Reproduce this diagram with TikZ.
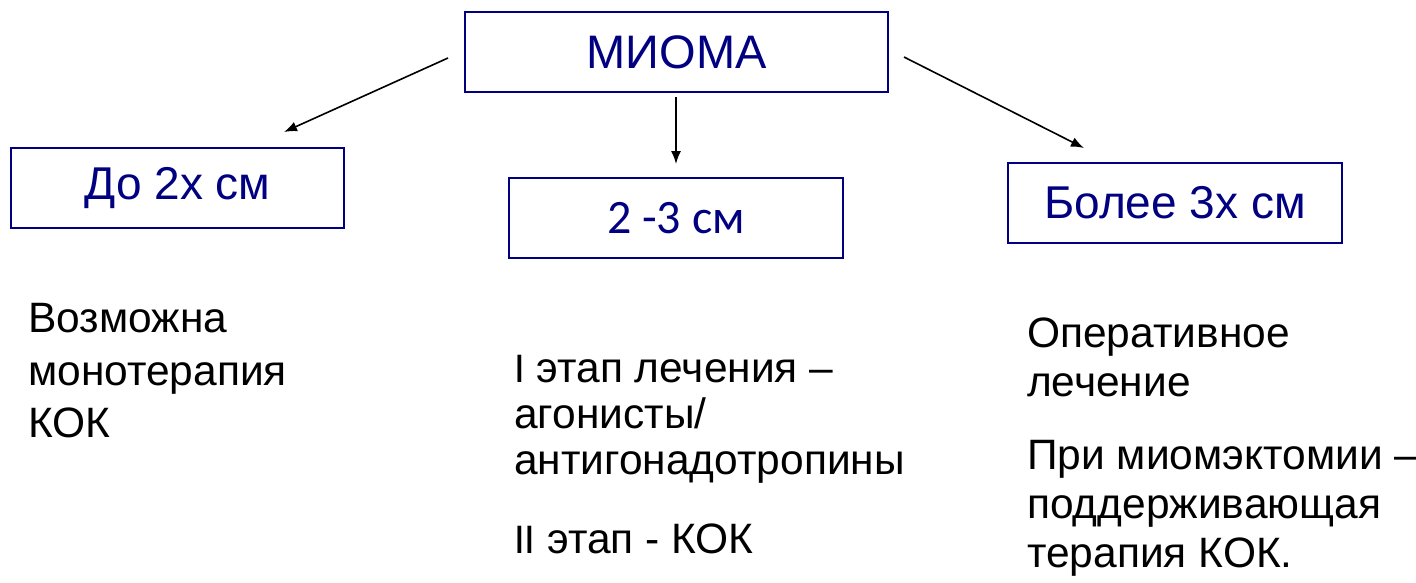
\documentclass[tikz,border=0pt]{standalone}
\usepackage{fontspec}
\setmainfont{Liberation Sans}
\newfontfamily\calfont{Carlito}
\usetikzlibrary{arrows.meta}
\definecolor{navy}{HTML}{000080}
\tikzset{
  box/.style={draw=navy, line width=2.2pt, inner sep=0pt, text=navy},
  boxfont/.style={font=\fontsize{46}{52}\selectfont},
  body/.style={anchor=base west, inner sep=0pt, font=\fontsize{42.5}{48}\selectfont, text=black},
  arr/.style={line width=1.6pt, -{Latex[length=13pt,width=10pt]}}
}
\begin{document}
\begin{tikzpicture}[x=1pt,y=-1pt]
\useasboundingbox (0,0) rectangle (1416,582);
% boxes
\node[box, minimum width=423pt, minimum height=80pt, font=\fontsize{47}{52}\selectfont] (mioma) at (676.5,52) {МИОМА};
\node[box, boxfont, minimum width=333pt, minimum height=80pt] (b1) at (177.5,188) {До 2х см};
\node[box, minimum width=334pt, minimum height=80pt, font=\calfont\fontsize{48}{52}\selectfont] (b2) at (676,218) {2 -3 см};
\node[box, boxfont, minimum width=334pt, minimum height=80pt] (b3) at (1175,203) {Более 3х см};
% arrow endpoints
\coordinate (a1s) at (448,58);
\coordinate (a1e) at (284,132);
\coordinate (a2s) at (676,97);
\coordinate (a2e) at (676,164);
\coordinate (a3s) at (904,57);
\coordinate (a3e) at (1084,148);
\draw[arr] (a1s) -- (a1e);
\draw[arr] (a2s) -- (a2e);
\draw[arr] (a3s) -- (a3e);
% left text
\node[body] (l1) at (28,332) {Возможна};
\node[body] (l2) at (28,385) {монотерапия};
\node[body] (l3) at (28,437) {КОК};
% middle text
\node[body] (m1) at (514,382) {{\calfont I} этап лечения –};
\node[body] (m2) at (514,428) {агонисты/};
\node[body] (m3) at (514,474) {антигонадотропины};
\node[body] (m4) at (514,553) {{\calfont II} этап - КОК};
% right text
\node[body] (r1) at (1027,347) {Оперативное};
\node[body] (r2) at (1027,396) {лечение};
\node[body] (r3) at (1027,469) {При миомэктомии –};
\node[body] (r4) at (1027,518) {поддерживающая};
\node[body] (r5) at (1027,567) {терапия КОК.};
\end{tikzpicture}
\end{document}
